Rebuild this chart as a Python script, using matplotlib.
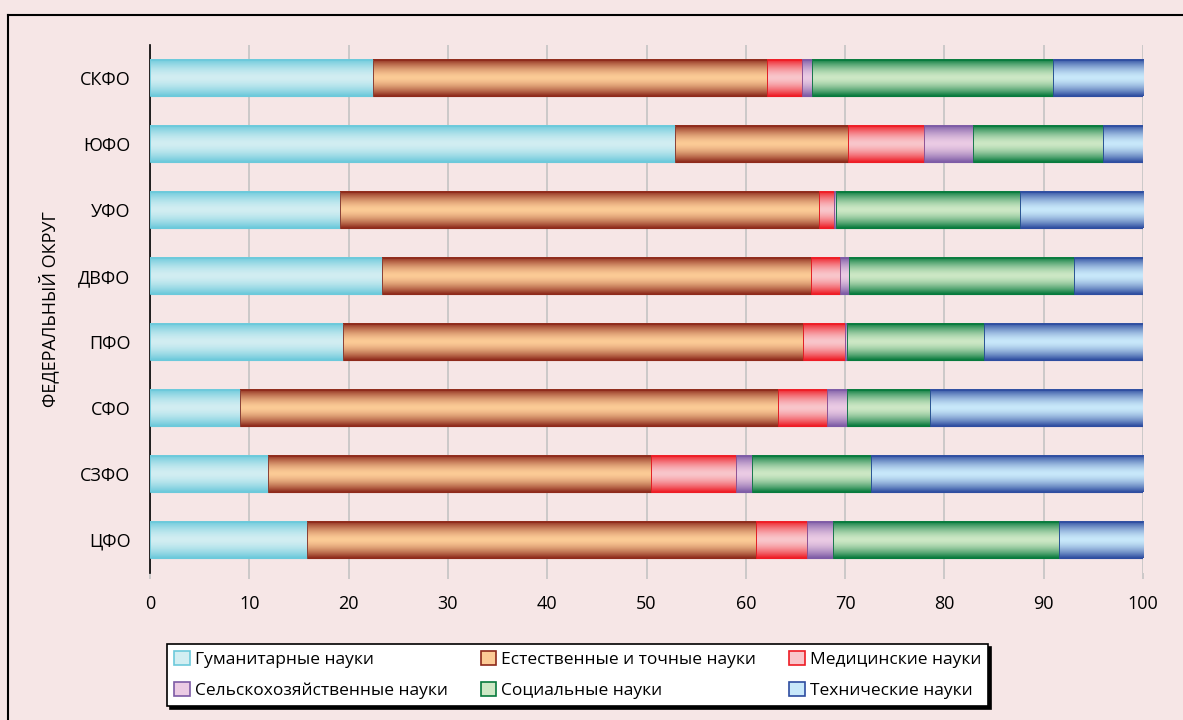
import numpy as np
import matplotlib
matplotlib.use('Agg')
import matplotlib.pyplot as plt
from matplotlib.patches import Patch
from matplotlib.lines import Line2D
from matplotlib.colors import to_rgb

plt.rcParams['font.family'] = ['Open Sans', 'DejaVu Sans']

# данные
okruga = ['ЦФО', 'СЗФО', 'СФО', 'ПФО', 'ДВФО', 'УФО', 'ЮФО', 'СКФО']
gumanit = [15.8, 11.9, 9.1, 19.4, 23.4, 19.1, 52.9, 22.5]
estestv = [45.2, 38.6, 54.1, 46.4, 43.2, 48.3, 17.4, 39.6]
medic = [5.2, 8.5, 5.0, 4.2, 2.9, 1.5, 7.6, 3.6]
selhoz = [2.6, 1.6, 2.0, 0.2, 0.9, 0.2, 5.0, 1.0]
social = [22.7, 12.0, 8.4, 13.8, 22.7, 18.5, 13.1, 24.2]
tehn = [8.5, 27.4, 21.4, 16.0, 6.9, 12.4, 4.0, 9.1]

series = [
    ('Гуманитарные науки', gumanit, '#6CC9DB', '#D2EEF2'),
    ('Естественные и точные науки', estestv, '#8E2A1B', '#FCCB96'),
    ('Медицинские науки', medic, '#EE1C25', '#F9C6CB'),
    ('Сельскохозяйственные науки', selhoz, '#7D5BA6', '#EBCBE4'),
    ('Социальные науки', social, '#077A3D', '#CDE8C5'),
    ('Технические науки', tehn, '#2E4DA0', '#C8E8FA'),
]

fondo = '#F6E6E6'
fig = plt.figure(figsize=(11.83, 7.2), dpi=100, facecolor=fondo)
ax = fig.add_axes([150 / 1183, 147 / 720, 993 / 1183, 528 / 720])
ax.set_facecolor(fondo)


def gradiente(borde, centro, n=80):
    t = np.abs(np.linspace(-1, 1, n))
    f = t ** 1.6
    b = np.array(to_rgb(borde))
    c = np.array(to_rgb(centro))
    col = c[None, :] + (b - c)[None, :] * f[:, None]
    return col[:, None, :]


y = np.arange(len(okruga))
izq = np.zeros(len(okruga))
handles = []
for nombre, vals, borde, centro in series:
    bars = ax.barh(y, vals, left=izq, height=0.56, color=centro,
                   edgecolor=borde, linewidth=0.8, zorder=2)
    img = gradiente(borde, centro)
    for p in bars.patches:
        x0, y0 = p.get_x(), p.get_y()
        ax.imshow(img, extent=[x0, x0 + p.get_width(), y0, y0 + p.get_height()],
                  aspect='auto', interpolation='bilinear', zorder=3)
        ax.add_patch(plt.Rectangle((x0, y0), p.get_width(), p.get_height(),
                                   facecolor='none', edgecolor=borde,
                                   linewidth=0.6, zorder=4))
    izq = izq + np.array(vals)
    handles.append(Patch(facecolor=centro, edgecolor=borde, linewidth=1.2,
                         label=nombre))

ax.set_xlim(0, 100)
ax.set_ylim(-0.5, len(okruga) - 0.5)
ax.set_xticks(range(0, 101, 10))
ax.set_yticks(y)
ax.set_yticklabels(okruga)
ax.grid(axis='x', color='#C4C4C4', linewidth=1.2, zorder=0)
ax.set_axisbelow(True)
for s in ['top', 'right', 'bottom']:
    ax.spines[s].set_visible(False)
ax.spines['left'].set_color('black')
ax.spines['left'].set_linewidth(1.2)
ax.tick_params(axis='x', length=4, color='#C4C4C4', width=1.2, pad=12,
               labelsize=13)
ax.tick_params(axis='y', length=0, pad=14, labelsize=13)
ax.set_ylabel('ФЕДЕРАЛЬНЫЙ ОКРУГ', fontsize=13, labelpad=14)

# orden para que las filas coincidan con la referencia
orden = [0, 3, 1, 4, 2, 5]
leg = fig.legend([handles[i] for i in orden],
                 [handles[i].get_label() for i in orden],
                 loc='lower left', ncol=3,
                 bbox_to_anchor=(167 / 1183, 14 / 720),
                 fontsize=12.5, frameon=True, fancybox=False,
                 edgecolor='black', facecolor='white', framealpha=1,
                 shadow={'color': 'black', 'alpha': 1},
                 handlelength=0.9, handleheight=0.9, handletextpad=0.3,
                 borderaxespad=0, borderpad=0.4, labelspacing=0.8,
                 columnspacing=1.9)
leg.get_frame().set_linewidth(1.2)

# marco exterior
fig.add_artist(Line2D([8 / 1183, 8 / 1183], [0, 705 / 720], color='black',
                      linewidth=1.5, transform=fig.transFigure))
fig.add_artist(Line2D([8 / 1183, 1], [705 / 720, 705 / 720], color='black',
                      linewidth=1.5, transform=fig.transFigure))

fig.savefig('out.png', dpi=100, facecolor=fondo)
